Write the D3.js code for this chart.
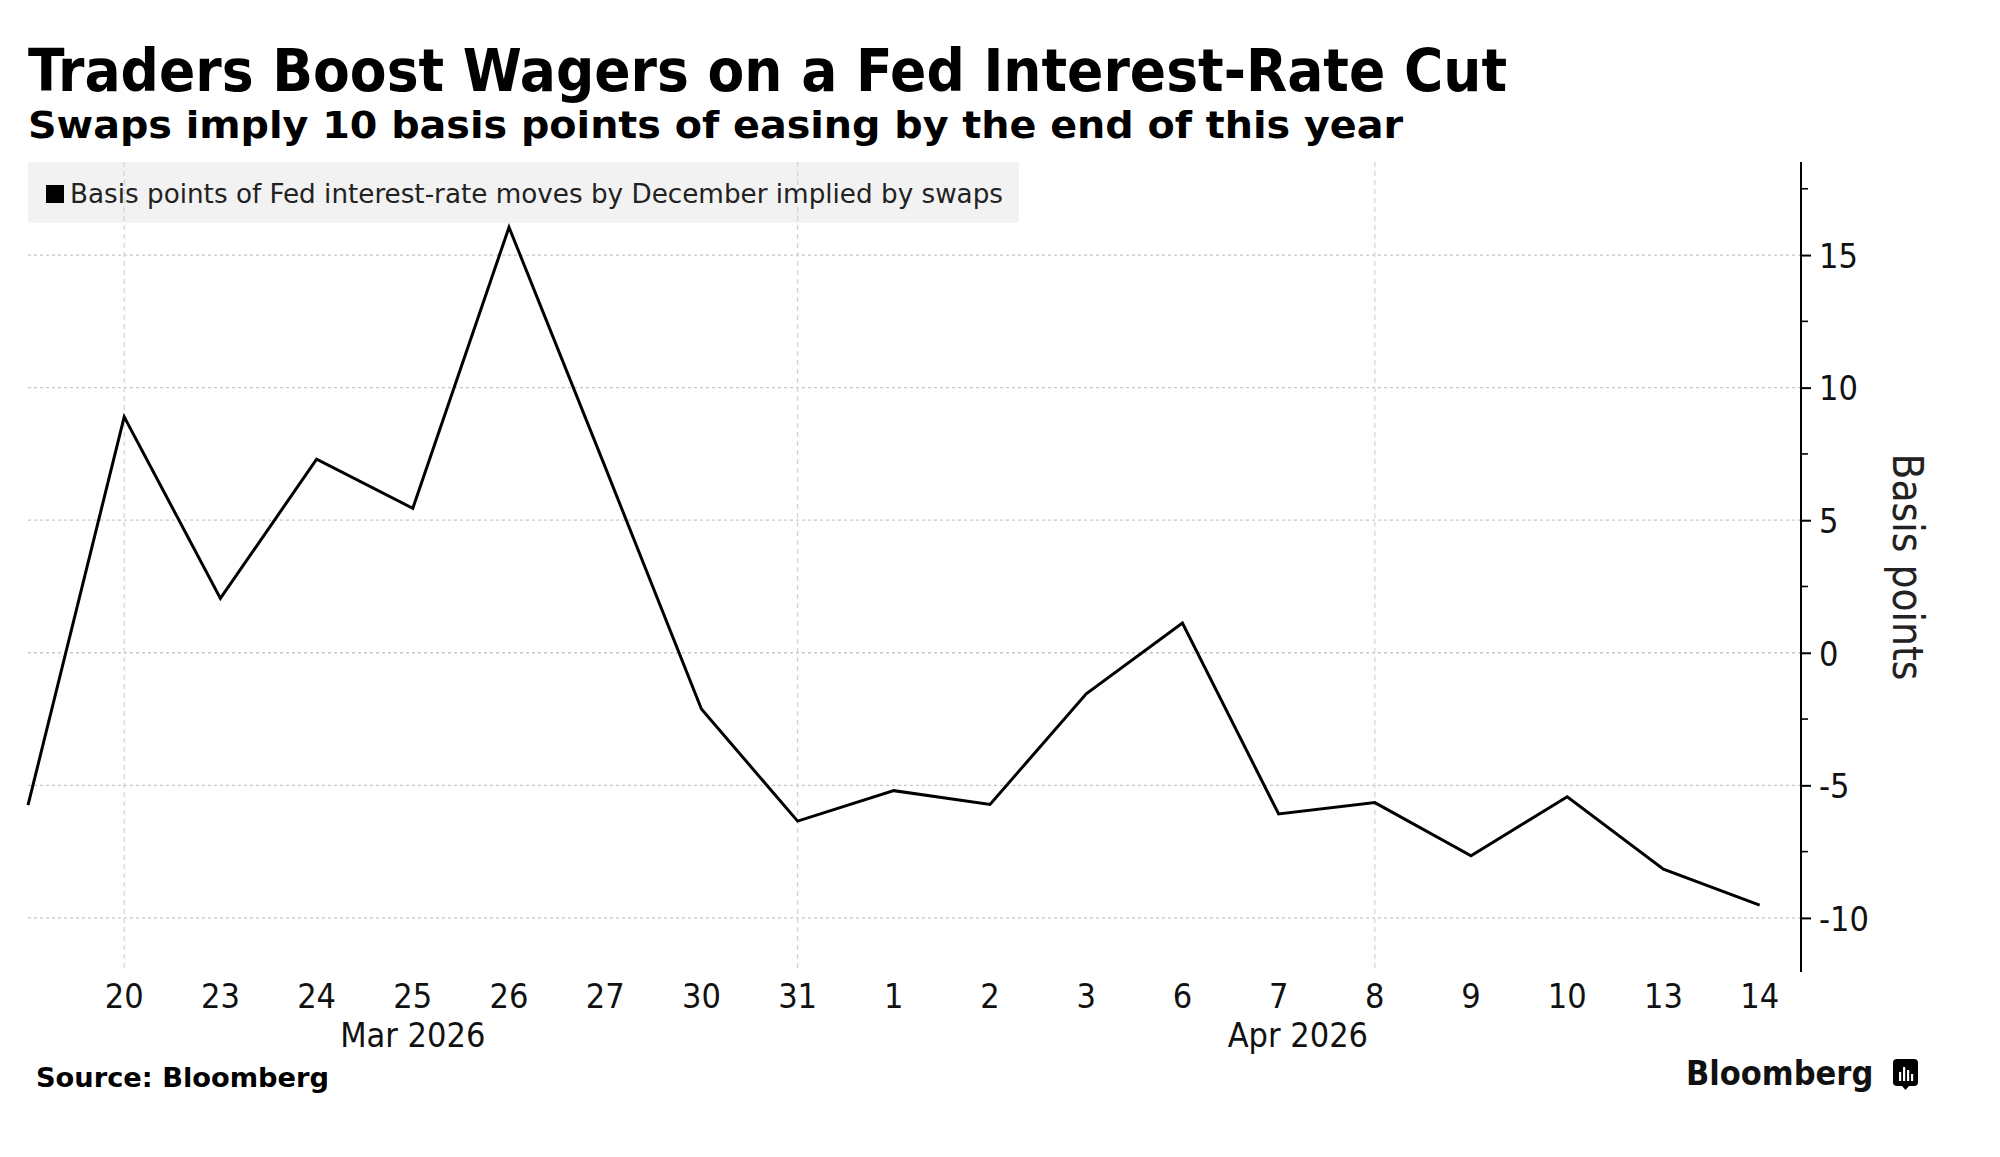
<!DOCTYPE html>
<html>
<head>
<meta charset="utf-8">
<script src="https://cdn.jsdelivr.net/npm/d3@7"></script>
<style>
  html, body { margin: 0; padding: 0; background: #fff; }
  svg { display: block; }
</style>
</head>
<body>
<svg id="chart" width="2000" height="1157"></svg>
<script>
// ---------------- DATA ----------------
const dates = ["2026-03-19","2026-03-20","2026-03-23","2026-03-24","2026-03-25","2026-03-26","2026-03-27",
               "2026-03-30","2026-03-31","2026-04-01","2026-04-02","2026-04-03","2026-04-06","2026-04-07",
               "2026-04-08","2026-04-09","2026-04-10","2026-04-13","2026-04-14"];
const values = [-5.75, 8.9, 2.05, 7.3, 5.45, 16.05, 7.0, -2.12, -6.35, -5.2, -5.72, -1.55, 1.12, -6.08,
                -5.65, -7.66, -5.43, -8.16, -9.52];
const xTickLabels = ["", "20","23","24","25","26","27","30","31","1","2","3","6","7","8","9","10","13","14"];
const monthLabels = [{label: "Mar 2026", at: 4}, {label: "Apr 2026", at: 13.2}];
const verticalGridAt = [1, 8, 14];
const yMajorTicks = [-10, -5, 0, 5, 10, 15];
const yMinorTicks = [-7.5, -2.5, 2.5, 7.5, 12.5, 17.5];
const yDomain = [-12.04, 18.51];
const xDomain = [0, 18.43];

const titleText = "Traders Boost Wagers on a Fed Interest-Rate Cut";
const subtitleText = "Swaps imply 10 basis points of easing by the end of this year";
const legendText = "Basis points of Fed interest-rate moves by December implied by swaps";
const yAxisTitle = "Basis points";
const sourceText = "Source: Bloomberg";
const brandText = "Bloomberg";

// ---------------- LAYOUT ----------------
const plotLeft = 28, plotRight = 1801, plotTop = 162, plotBottom = 972;
const boldFont = "'DejaVu Sans Condensed', 'DejaVu Sans', sans-serif";
const regFont = "'DejaVu Sans Condensed', 'DejaVu Sans', sans-serif";

const svg = d3.select("#chart");
const x = d3.scaleLinear().domain(xDomain).range([plotLeft, plotRight]);
const y = d3.scaleLinear().domain(yDomain).range([plotBottom, plotTop]);

function fit(sel, w) {
  const n = sel.node();
  const len = n.getComputedTextLength();
  if (Math.abs(len - w) > 2) sel.attr("textLength", w).attr("lengthAdjust", "spacingAndGlyphs");
  return sel;
}

// Titles
fit(svg.append("text").attr("x", 28).attr("y", 91)
  .attr("font-family", boldFont).attr("font-weight", "bold").attr("font-size", 58)
  .attr("fill", "#000").text(titleText), 1479);
fit(svg.append("text").attr("x", 28).attr("y", 138)
  .attr("font-family", boldFont).attr("font-weight", "bold").attr("font-size", 38)
  .attr("fill", "#000").text(subtitleText), 1375);

// Legend background
svg.append("rect").attr("x", 28).attr("y", 162).attr("width", 991).attr("height", 61)
  .attr("rx", 3).attr("fill", "#f2f2f2");

// Horizontal grid
svg.append("g").selectAll("line").data(yMajorTicks).join("line")
  .attr("x1", plotLeft).attr("x2", plotRight)
  .attr("y1", d => y(d)).attr("y2", d => y(d))
  .attr("stroke", "#c8c8c8").attr("stroke-width", 1.3).attr("stroke-dasharray", "3,3");

// Vertical grid
svg.append("g").selectAll("line").data(verticalGridAt).join("line")
  .attr("x1", d => x(d)).attr("x2", d => x(d))
  .attr("y1", plotTop).attr("y2", plotBottom)
  .attr("stroke", "#d2d2d2").attr("stroke-width", 1.2).attr("stroke-dasharray", "5,4");

// Legend content
svg.append("rect").attr("x", 46).attr("y", 185).attr("width", 18).attr("height", 18).attr("fill", "#000");
fit(svg.append("text").attr("x", 70).attr("y", 203)
  .attr("font-family", regFont).attr("font-size", 26).attr("fill", "#222").text(legendText), 933);

// Line
const line = d3.line().x((d, i) => x(i)).y(d => y(d));
svg.append("path").datum(values).attr("d", line)
  .attr("fill", "none").attr("stroke", "#000").attr("stroke-width", 3)
  .attr("stroke-linejoin", "miter");

// Right y axis
const yAxis = d3.axisRight(y).tickValues(yMajorTicks).tickSize(10).tickPadding(8)
  .tickFormat(d3.format("d"));
const ga = svg.append("g").attr("transform", `translate(${plotRight},0)`).call(yAxis);
ga.select(".domain").remove();
ga.selectAll(".tick line").attr("stroke", "#000").attr("stroke-width", 2);
ga.selectAll(".tick text").attr("font-family", regFont).attr("font-size", 34).attr("fill", "#111")
  .attr("dy", "0.36em");
ga.selectAll(".tick text").text(d => d < 0 ? "-" + Math.abs(d) : d);
svg.append("line").attr("x1", plotRight).attr("x2", plotRight).attr("y1", plotTop).attr("y2", plotBottom)
  .attr("stroke", "#000").attr("stroke-width", 2);
svg.append("g").selectAll("line").data(yMinorTicks).join("line")
  .attr("x1", plotRight).attr("x2", plotRight + 7)
  .attr("y1", d => y(d)).attr("y2", d => y(d))
  .attr("stroke", "#000").attr("stroke-width", 1.6);

// y-axis title
svg.append("text").attr("transform", `translate(1893,${(plotTop + plotBottom) / 2})  rotate(90)`)
  .attr("text-anchor", "middle")
  .attr("font-family", regFont).attr("font-size", 42).attr("fill", "#222").text(yAxisTitle);

// X tick labels
svg.append("g").selectAll("text").data(xTickLabels).join("text")
  .attr("x", (d, i) => x(i)).attr("y", 1008).attr("text-anchor", "middle")
  .attr("font-family", regFont).attr("font-size", 34).attr("fill", "#111").text(d => d);
svg.append("g").selectAll("text").data(monthLabels).join("text")
  .attr("x", d => x(d.at)).attr("y", 1047).attr("text-anchor", "middle")
  .attr("font-family", regFont).attr("font-size", 34).attr("fill", "#111").text(d => d.label);

// Footer
fit(svg.append("text").attr("x", 36).attr("y", 1087)
  .attr("font-family", boldFont).attr("font-weight", "bold").attr("font-size", 27)
  .attr("fill", "#000").text(sourceText), 293);
fit(svg.append("text").attr("x", 1686).attr("y", 1085)
  .attr("font-family", regFont).attr("font-weight", "bold").attr("font-size", 34)
  .attr("fill", "#111").text(brandText), 188);
// Bloomberg icon
const ic = svg.append("g").attr("transform", "translate(1893,1059)");
ic.append("rect").attr("width", 25).attr("height", 27).attr("rx", 4).attr("fill", "#000");
ic.append("path").attr("d", "M9,27 L12.5,31 L16,27 Z").attr("fill", "#000");
[[6, 13], [10, 8], [14, 11], [18, 15]].forEach(([bx, by]) => {
  ic.append("rect").attr("x", bx).attr("y", by).attr("width", 2.2).attr("height", 22 - by).attr("fill", "#fff");
});
</script>
</body>
</html>
